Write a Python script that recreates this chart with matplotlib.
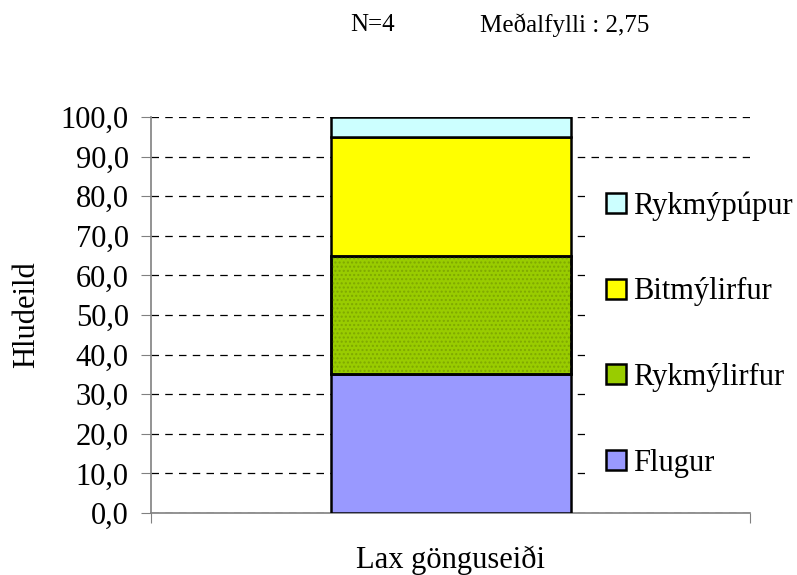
import matplotlib.pyplot as plt
import numpy as np

# gögn lesin af myndinni
categories = ["Lax gönguseiði"]
series_names = ["Flugur", "Rykmýlirfur", "Bitmýlirfur", "Rykmýpúpur"]
series_values = [[35.0], [30.0], [30.0], [5.0]]
colors = ["#9999FF", "#99CC00", "#FFFF00", "#CCFFFF"]
yticks = [0, 10, 20, 30, 40, 50, 60, 70, 80, 90, 100]
ytick_labels = [("%.1f" % v).replace(".", ",") for v in yticks]

plt.rcParams["font.family"] = ["Liberation Serif", "DejaVu Serif"]

fig = plt.figure(figsize=(7.97, 5.75), dpi=100)
ax = fig.add_axes([0.1895, 0.1078, 0.752, 0.6887])

x = np.arange(len(categories))
bottom = np.zeros(len(categories))
handles = []
for name, vals, col in zip(series_names, series_values, colors):
    vals = np.array(vals)
    b = ax.bar(x, vals, width=0.4, bottom=bottom, color=col,
               edgecolor="black", linewidth=1.8, label=name, zorder=3)
    if name == "Rykmýlirfur":
        # punktamynstur
        ax.bar(x, vals, width=0.4, bottom=bottom, color="none",
               edgecolor="#7FA800", hatch="....", linewidth=0, zorder=3.5)
        ax.bar(x, vals, width=0.4, bottom=bottom, color="none",
               edgecolor="black", linewidth=1.8, zorder=4)
    handles.append(b)
    bottom = bottom + vals

ax.set_xlim(-0.5, 0.5)
ax.set_ylim(0, 100)
ax.set_yticks(yticks)
ax.set_yticklabels(ytick_labels, fontsize=22)
ax.set_xticks([-0.5, 0.5])
ax.set_xticklabels([])
ax.tick_params(axis="x", length=7, color="#808080", direction="out")
ax.tick_params(axis="y", length=7, color="#808080", direction="out", pad=9)

ax.yaxis.grid(True, linestyle=(0, (6, 5)), color="black", linewidth=0.9)
ax.set_axisbelow(True)
for s in ["top", "right"]:
    ax.spines[s].set_visible(False)
for s in ["left", "bottom"]:
    ax.spines[s].set_color("#808080")
    ax.spines[s].set_linewidth(1.2)

ax.set_ylabel("Hludeild", fontsize=22, labelpad=14)
ax.text(0.5, -0.119, categories[0], transform=ax.transAxes, ha="center",
        va="center", fontsize=22)

fig.text(0.439, 0.957, "N=4", fontsize=18, ha="left", va="center")
fig.text(0.602, 0.957, "Meðalfylli : 2,75", fontsize=18, ha="left", va="center")

leg = fig.legend(handles[::-1], series_names[::-1], loc="upper left",
                 bbox_to_anchor=(0.7334, 0.7043), frameon=True, fontsize=22,
                 handlelength=0.65, handleheight=0.65, handletextpad=0.25,
                 labelspacing=1.85, borderaxespad=0, borderpad=0.7,
                 fancybox=False)
leg.get_frame().set_edgecolor("none")
leg.get_frame().set_facecolor("white")
leg.get_frame().set_alpha(1)
leg.set_zorder(5)

fig.savefig("out.png", dpi=100)
